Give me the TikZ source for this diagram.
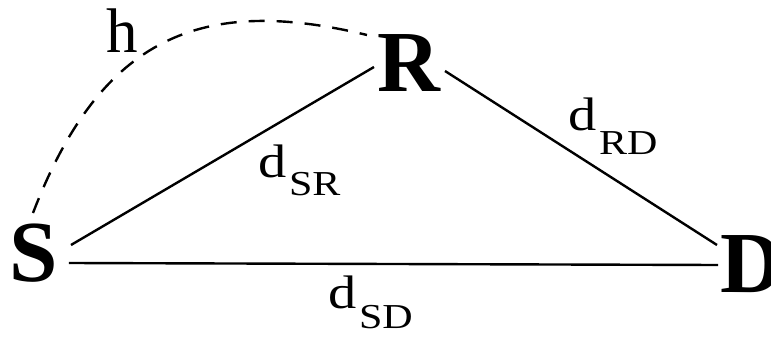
\documentclass[tikz,border=0pt]{standalone}
\usepackage{graphicx}
\usepackage{fontspec}
\setmainfont{Liberation Serif}
\newcommand{\distlab}[2]{\scalebox{1.2}[1]{\fontsize{47}{47}\selectfont d\kern2pt\raisebox{-#2pt}{\fontsize{35}{35}\selectfont #1}}}
\begin{document}
\begin{tikzpicture}[x=1pt,y=-1pt,
  vert/.style={font=\fontsize{87}{87}\selectfont\bfseries, inner sep=0pt, outer sep=0pt},
  lbl/.style={inner sep=0pt, outer sep=0pt},
  link/.style={line width=2.4pt},
  hop/.style={line width=2.4pt, dash pattern=on 16pt off 12pt}]
\useasboundingbox (0,0) rectangle (771,337);
\node[vert, anchor=base] (S) at (34,281) {S};
\node[vert, anchor=base] (R) at (409,92) {R};
\node[vert, anchor=base west] (D) at (720.5,292) {D};
% connectors
\draw[link] ([xshift=12.8pt,yshift=36pt]S.base east) -- ([xshift=-3.6pt,yshift=25pt]R.base west);
\draw[link] ([xshift=10.8pt,yshift=18pt]S.base east) -- ([xshift=-2.5pt,yshift=27pt]D.base west);
\draw[link] ([xshift=4.6pt,yshift=21pt]R.base east) -- ([xshift=-3.5pt,yshift=47pt]D.base west);
\draw[hop] ([xshift=-1pt,yshift=68pt]S.base) .. controls +(68,-177) and +(-165,-40) .. ([xshift=-10.6pt,yshift=57pt]R.base west);
% labels
\node[lbl, anchor=base, font=\fontsize{63}{63}\selectfont] (h) at (122,53) {h};
\node[lbl, anchor=base west] (dsr) at (258.5,177) {\distlab{SR}{18}};
\node[lbl, anchor=base west] (dsd) at (328.5,308) {\distlab{SD}{20}};
\node[lbl, anchor=base west] (drd) at (568.5,130) {\distlab{RD}{24}};
\end{tikzpicture}
\end{document}
